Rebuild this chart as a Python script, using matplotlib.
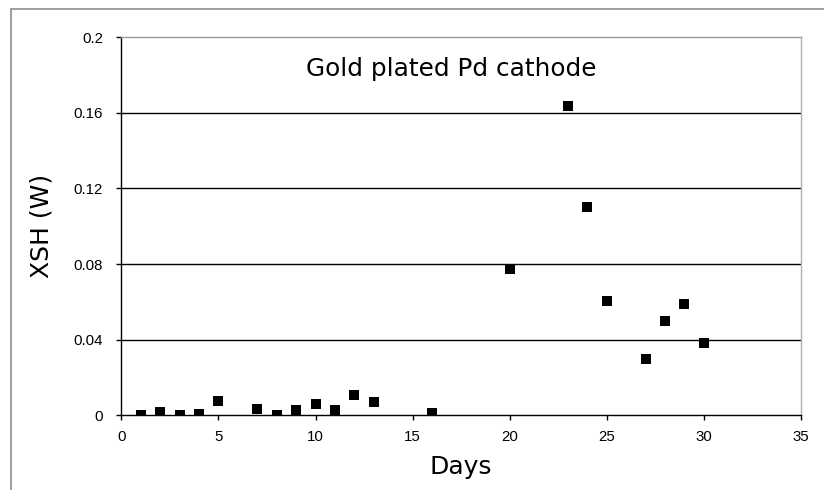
import matplotlib
matplotlib.use("Agg")
import matplotlib.pyplot as plt
from matplotlib.patches import Rectangle

# data
days = [1, 2, 3, 4, 5, 7, 8, 9, 10, 11, 12, 13, 16, 20, 23, 24, 25, 27, 28, 29, 30]
xsh = [0.0, 0.0016, 0.0, 0.0003, 0.0072, 0.0033, 0.0, 0.0029, 0.0057, 0.0029,
       0.0108, 0.0071, 0.0009, 0.0775, 0.1637, 0.110, 0.0606, 0.0295, 0.050,
       0.0586, 0.038]

x_ticks = [0, 5, 10, 15, 20, 25, 30, 35]
y_ticks = [0, 0.04, 0.08, 0.12, 0.16, 0.2]
y_labels = ["0", "0.04", "0.08", "0.12", "0.16", "0.2"]

fig = plt.figure(figsize=(8.24, 4.90), dpi=100)
fig.patch.set_facecolor("white")

# outer chart border (cut off at right and bottom in the reference)
fig.patches.append(Rectangle((11 / 824, -0.05), 1.2, (490 - 9) / 490 + 0.05,
                             transform=fig.transFigure, fill=False,
                             edgecolor="#8c8c8c", linewidth=1.2))

ax = fig.add_axes([121.4 / 824, 75 / 490, 679.6 / 824, 377.5 / 490])

for y in y_ticks[1:-1]:
    ax.axhline(y, color="black", linewidth=1.0, zorder=1)

ax.scatter(days, xsh, marker="s", s=52, color="black", zorder=3, linewidths=0)

ax.set_xlim(0, 35)
ax.set_ylim(0, 0.2)
ax.set_xticks(x_ticks)
ax.set_yticks(y_ticks)
ax.set_yticklabels(y_labels)

for lab in ax.get_xticklabels() + ax.get_yticklabels():
    lab.set_fontfamily("Liberation Sans")
    lab.set_fontsize(10.8)

ax.tick_params(direction="out", length=3.8, width=1, color="black")
ax.tick_params(axis="x", pad=7)
ax.tick_params(axis="y", pad=9.5)

ax.spines["left"].set_color("black")
ax.spines["bottom"].set_color("black")
ax.spines["top"].set_color("#9a9a9a")
ax.spines["right"].set_color("#b0b0b0")
for s in ax.spines.values():
    s.set_linewidth(1.0)

ax.set_xlabel("Days", fontsize=18, family="DejaVu Sans", labelpad=8)
ax.set_ylabel("XSH (W)", fontsize=18, family="DejaVu Sans", labelpad=14)

ax.text(9.51, 0.1798, "Gold plated Pd cathode", fontsize=17.8,
        family="DejaVu Sans", ha="left", va="baseline")

fig.savefig("out.png", dpi=100)
